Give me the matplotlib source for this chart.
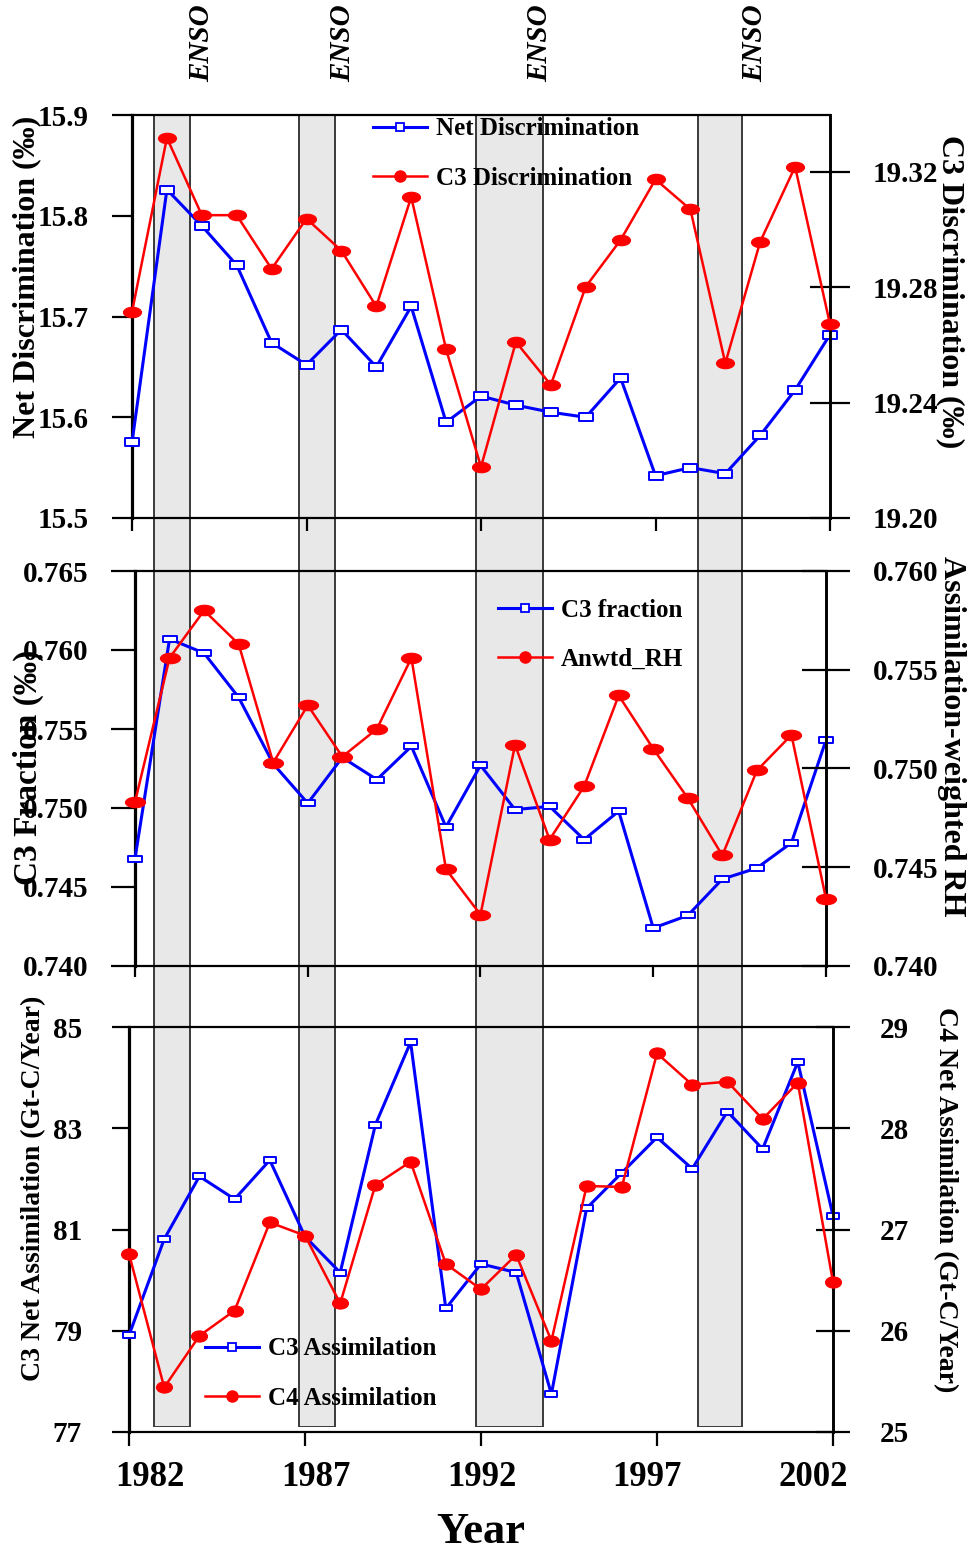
import matplotlib
matplotlib.use("Agg")
import matplotlib.pyplot as plt
from matplotlib.path import Path
from matplotlib.markers import MarkerStyle
from matplotlib.transforms import Affine2D, blended_transform_factory
from matplotlib.lines import Line2D
from matplotlib.ticker import FormatStrFormatter

# ---------------- data ----------------
years = list(range(1982, 2003))

net_discrimination = [15.575, 15.826, 15.790, 15.751, 15.674, 15.652, 15.687,
                      15.650, 15.710, 15.595, 15.621, 15.612, 15.605, 15.600,
                      15.639, 15.542, 15.550, 15.544, 15.582, 15.627, 15.682]
c3_discrimination = [19.2714, 19.3317, 19.3049, 19.3049, 19.2863, 19.3037, 19.2926,
                     19.2733, 19.3112, 19.2584, 19.2177, 19.2610, 19.2461, 19.2801,
                     19.2963, 19.3173, 19.3069, 19.2536, 19.2957, 19.3217, 19.2671]

c3_fraction = [0.7468, 0.7607, 0.7598, 0.7570, 0.7528, 0.7503, 0.7532,
               0.7518, 0.7539, 0.7488, 0.7527, 0.7499, 0.7501, 0.7480,
               0.7498, 0.7424, 0.7432, 0.7455, 0.7462, 0.7478, 0.7543]
anwtd_rh = [0.7483, 0.7556, 0.7580, 0.7563, 0.7503, 0.7532, 0.7506,
            0.7520, 0.7556, 0.7449, 0.7426, 0.7512, 0.7464, 0.7491,
            0.7537, 0.7510, 0.7485, 0.7456, 0.7499, 0.7517, 0.7434]

c3_assimilation = [78.91, 80.81, 82.05, 81.60, 82.37, 80.86, 80.15,
                   83.07, 84.70, 79.44, 80.32, 80.15, 77.75, 81.42,
                   82.12, 82.82, 82.20, 83.33, 82.59, 84.31, 81.27]
c4_assimilation = [26.76, 25.44, 25.95, 26.20, 27.07, 26.94, 26.27,
                   27.44, 27.67, 26.66, 26.41, 26.75, 25.90, 27.43,
                   27.42, 28.74, 28.43, 28.46, 28.09, 28.45, 26.48]

enso_start = [1982.62, 1986.79, 1991.86, 1998.22]
enso_end = [1983.65, 1987.83, 1993.77, 1999.48]
enso_label_x = [1984.0, 1988.05, 1993.67, 1999.83]

year_ticks = [1982, 1987, 1992, 1997, 2002]
disc_ticks = [15.5, 15.6, 15.7, 15.8, 15.9]
c3disc_ticks = [19.20, 19.24, 19.28, 19.32]
frac_ticks = [0.740, 0.745, 0.750, 0.755, 0.760, 0.765]
rh_ticks = [0.740, 0.745, 0.750, 0.755, 0.760]
c3a_ticks = [77, 79, 81, 83, 85]
c4a_ticks = [25, 26, 27, 28, 29]

# ---------------- style ----------------
plt.rcParams['font.family'] = ['Liberation Serif', 'DejaVu Serif']
plt.rcParams['font.weight'] = 'bold'

W, H = 972, 1551
fig = plt.figure(figsize=(W / 100, H / 100), dpi=100)


def box(left, right, top, bottom):
    """Pixel edges (from the top-left corner) to a figure-fraction rectangle."""
    return [left / W, 1 - bottom / H, (right - left) / W, (bottom - top) / H]


def wide_box(ratio):
    verts = [(-1, -ratio), (1, -ratio), (1, ratio), (-1, ratio), (-1, -ratio)]
    return MarkerStyle(Path(verts, closed=True))


def wide_ellipse(ratio):
    return MarkerStyle(Path.unit_circle().transformed(Affine2D().scale(1, ratio)))


BLUE = '#0000ff'
RED = '#ff0000'

# ENSO bands behind all three panels
ax_bg = fig.add_axes(box(132, 830, 115, 1427))
ax_bg.set_xlim(1982, 2002)
ax_bg.set_ylim(0, 1)
ax_bg.axis('off')
for s, e in zip(enso_start, enso_end):
    ax_bg.axvspan(s, e, ymin=0, ymax=1, facecolor='#e8e8e8',
                  edgecolor='#3a3a3a', linewidth=1.4)

enso_tr = blended_transform_factory(ax_bg.transData, fig.transFigure)
for x in enso_label_x:
    fig.text(x, 1 - 43 / H, 'ENSO', transform=enso_tr, rotation=90,
             ha='center', va='center', fontsize=21, fontstyle='italic',
             fontweight='bold')


def panel(rect, left_vals, right_vals, left_lim, right_lim, left_ticks,
          right_ticks, left_fmt, right_fmt, sq_ms, sq_ratio, el_ms, el_ratio,
          left_len, right_len, left_pad, right_pad, bottom_len):
    ax = fig.add_axes(rect)
    axr = ax.twinx()
    ax.set_facecolor('none')
    ax.set_xlim(1982, 2002)
    ax.set_ylim(*left_lim)
    axr.set_ylim(*right_lim)
    ax.set_xticks(year_ticks)
    ax.set_yticks(left_ticks)
    axr.set_yticks(right_ticks)
    ax.yaxis.set_major_formatter(FormatStrFormatter(left_fmt))
    axr.yaxis.set_major_formatter(FormatStrFormatter(right_fmt))

    ax.plot(years, left_vals, color=BLUE, lw=2.2, marker=wide_box(sq_ratio),
            ms=sq_ms, mfc='white', mec=BLUE, mew=1.4, clip_on=False, zorder=3)
    axr.plot(years, right_vals, color=RED, lw=1.8, marker=wide_ellipse(el_ratio),
             ms=el_ms, mfc=RED, mec=RED, mew=0.8, clip_on=False, zorder=3)

    ax.spines['right'].set_visible(False)
    ax.spines['top'].set_linewidth(1.6)
    ax.spines['bottom'].set_linewidth(1.6)
    ax.spines['left'].set_linewidth(2.3)
    for s in ['left', 'top', 'bottom']:
        axr.spines[s].set_visible(False)
    axr.spines['right'].set_linewidth(2.1)

    ax.tick_params(axis='y', direction='out', length=left_len, width=1.6,
                   pad=left_pad, labelsize=21)
    axr.tick_params(axis='y', direction='inout', length=right_len, width=1.6,
                    pad=right_pad, labelsize=21)
    ax.tick_params(axis='x', direction='out', length=bottom_len, width=1.6,
                   labelbottom=False)
    return ax, axr


ax1, ax1r = panel(box(132, 830, 115, 518), net_discrimination, c3_discrimination,
                  (15.5, 15.9), (19.20, 19.3396), disc_ticks, c3disc_ticks,
                  '%.1f', '%.2f', 9.4, 0.55, 13.0, 0.58,
                  14.4, 28.8, 16.5, 16.5, 9.5)
ax2, ax2r = panel(box(135, 826, 571, 966), c3_fraction, anwtd_rh,
                  (0.740, 0.765), (0.740, 0.760), frac_ticks, rh_ticks,
                  '%.3f', '%.3f', 10.6, 0.47, 14.5, 0.52,
                  17.0, 34.0, 16.5, 16.5, 8.0)
ax3, ax3r = panel(box(129, 833, 1027, 1432), c3_assimilation, c4_assimilation,
                  (77, 85), (25, 29), c3a_ticks, c4a_ticks,
                  '%d', '%d', 8.0, 0.6, 11.5, 0.7,
                  12.2, 23.8, 21.6, 21.6, 10.0)

# legends
def legend_handles():
    h_blue = Line2D([], [], color=BLUE, lw=2.2, marker='s', ms=5.5,
                    mfc='white', mec=BLUE, mew=1.3)
    h_red = Line2D([], [], color=RED, lw=1.8, marker='o', ms=8.0,
                   mfc=RED, mec=RED)
    return [h_blue, h_red]


def add_legend(ax, labels, x_px, y_center_px):
    ax.legend(handles=legend_handles(), labels=labels, loc='center left',
              bbox_to_anchor=(x_px / W, 1 - y_center_px / H),
              bbox_transform=fig.transFigure, frameon=False,
              prop={'size': 18, 'weight': 'bold'}, handlelength=2.16,
              handletextpad=0.36, borderpad=0, borderaxespad=0,
              labelspacing=1.05)


add_legend(ax1r, ['Net Discrimination', 'C3 Discrimination'], 373, 153.5)
add_legend(ax2r, ['C3 fraction', 'Anwtd_RH'], 498, 635)
add_legend(ax3r, ['C3 Assimilation', 'C4 Assimilation'], 205, 1373.5)

# year labels along the bottom
ax_lab = fig.add_axes(box(150, 813, 1431, 1432))
ax_lab.set_xlim(1982, 2002)
ax_lab.set_xticks(year_ticks)
ax_lab.set_yticks([])
ax_lab.patch.set_visible(False)
for s in ax_lab.spines.values():
    s.set_visible(False)
ax_lab.tick_params(axis='x', length=0, pad=21, labelsize=25)

fig.text(481 / W, 1 - 1532 / H, 'Year', ha='center', va='center',
         fontsize=32, fontweight='bold')

# axis titles
left_titles = [('Net Discrimination (‰)', 27, 277, 23),
               ('C3 Fraction (‰)', 28, 767, 24),
               ('C3 Net Assimilation (Gt-C/Year)', 34, 1188, 20)]
right_titles = [('C3 Discrimination (‰)', 950, 292, 23),
                ('Assimilation-weighted RH', 951, 736, 23),
                ('C4 Net Assimilation (Gt-C/Year)', 945, 1200, 20)]
for text, x, y, size in left_titles:
    fig.text(x / W, 1 - y / H, text, rotation=90, ha='center', va='center',
             fontsize=size, fontweight='bold')
for text, x, y, size in right_titles:
    fig.text(x / W, 1 - y / H, text, rotation=270, ha='center', va='center',
             fontsize=size, fontweight='bold')

fig.savefig('out.png', dpi=100)
